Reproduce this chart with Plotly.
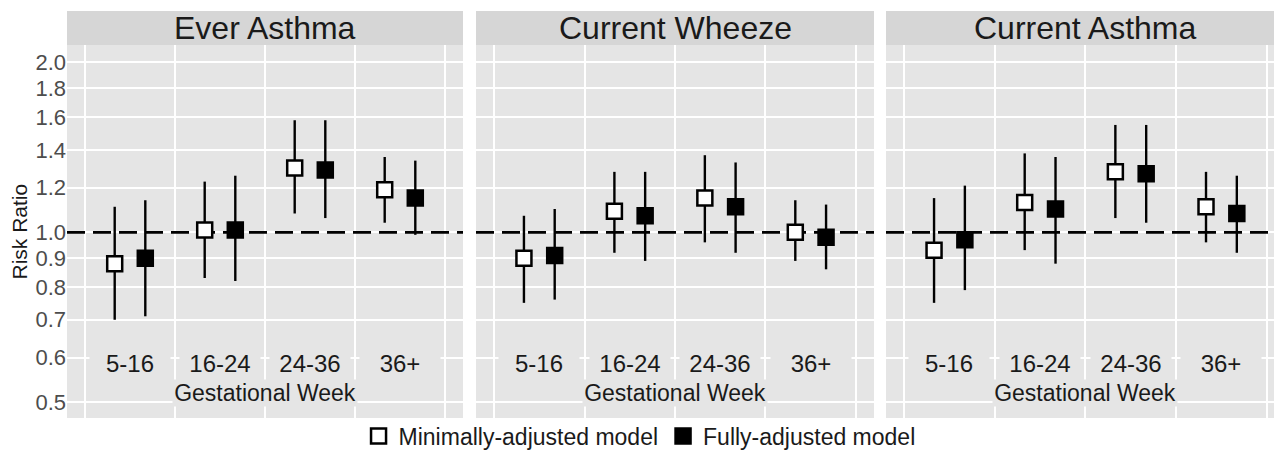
import math
import plotly.graph_objects as go

# ---------------- data ----------------
categories = ["5-16", "16-24", "24-36", "36+"]
outcomes = ["Ever Asthma", "Current Wheeze", "Current Asthma"]
series_names = ["Minimally-adjusted model", "Fully-adjusted model"]

# one row per outcome (Ever Asthma, Current Wheeze, Current Asthma)
min_rr = [[0.88, 1.01, 1.30, 1.19],
          [0.90, 1.09, 1.15, 1.00],
          [0.93, 1.13, 1.28, 1.11]]
min_lo = [[0.70, 0.83, 1.08, 1.04],
          [0.75, 0.92, 0.96, 0.89],
          [0.75, 0.93, 1.06, 0.96]]
min_hi = [[1.11, 1.23, 1.58, 1.36],
          [1.07, 1.28, 1.37, 1.14],
          [1.15, 1.38, 1.55, 1.28]]
full_rr = [[0.90, 1.01, 1.29, 1.15],
           [0.91, 1.07, 1.11, 0.98],
           [0.97, 1.10, 1.27, 1.08]]
full_lo = [[0.71, 0.82, 1.06, 0.99],
           [0.76, 0.89, 0.92, 0.86],
           [0.79, 0.88, 1.04, 0.92]]
full_hi = [[1.14, 1.26, 1.58, 1.34],
           [1.10, 1.28, 1.33, 1.12],
           [1.21, 1.36, 1.55, 1.26]]

y_ticks = [0.5, 0.6, 0.7, 0.8, 0.9, 1.0, 1.2, 1.4, 1.6, 1.8, 2.0]
y_tick_labels = ["0.5", "0.6", "0.7", "0.8", "0.9", "1.0", "1.2", "1.4", "1.6", "1.8", "2.0"]
reference_rr = 1.0

# ---------------- style / layout ----------------
W, H = 1274, 452
FONT = "Liberation Sans, Arial, Helvetica, sans-serif"
PANEL = "#e5e5e5"
STRIP = "#d6d6d6"
panel_px = [(67, 463), (476, 874), (886, 1274)]
x_ranges = [[0.3, 4.7], [0.3, 4.7], [0.3, 4.58]]
plot_top, plot_bottom, strip_top = 45, 418, 11
y_range = [-0.329, 0.332]
dodge = 0.17
cat_label_y = 0.587
axis_title_y = 0.519

fig = go.Figure()
layout = dict(
    template="none",
    width=W, height=H,
    margin=dict(l=0, r=0, t=0, b=0, autoexpand=False),
    paper_bgcolor="white",
    plot_bgcolor=PANEL,
    font=dict(family=FONT, color="#1a1a1a"),
    showlegend=True,
    legend=dict(orientation="h", x=0.502, xanchor="center",
                y=1 - 436 / H, yanchor="middle",
                font=dict(size=23, color="#1a1a1a"),
                bgcolor="rgba(0,0,0,0)", itemsizing="trace"),
)
shapes = []
annotations = []

for k in range(3):
    sfx = "" if k == 0 else str(k + 1)
    xa, ya = "x" + sfx, "y" + sfx
    l, r = panel_px[k]
    layout["xaxis" + sfx] = dict(
        domain=[l / W, r / W], range=x_ranges[k], anchor=ya, automargin=False,
        tickvals=[0.5, 1.5, 2.5, 3.5, 4.5], showticklabels=False,
        showgrid=True, gridcolor="white", gridwidth=2, zeroline=False,
        showline=False, ticks="",
    )
    layout["yaxis" + sfx] = dict(
        domain=[1 - plot_bottom / H, 1 - plot_top / H], type="log",
        range=y_range, anchor=xa, automargin=False,
        tickvals=y_ticks, ticktext=y_tick_labels,
        showticklabels=(k == 0), ticks="",
        tickfont=dict(size=22, color="#4d4d4d"),
        showgrid=True, gridcolor="white", gridwidth=2, zeroline=False,
        showline=False,
    )
    # panel background
    shapes.append(dict(type="rect", xref="paper", yref="paper", layer="below",
                       x0=l / W, x1=r / W, y0=1 - plot_bottom / H, y1=1 - plot_top / H,
                       fillcolor=PANEL, line=dict(width=0)))
    # strip
    shapes.append(dict(type="rect", xref="paper", yref="paper",
                       x0=l / W, x1=r / W, y0=1 - plot_top / H, y1=1 - strip_top / H,
                       fillcolor=STRIP, line=dict(width=0)))
    annotations.append(dict(text=outcomes[k], xref=xa, yref="paper",
                            x=(x_ranges[0][0] + x_ranges[0][1]) / 2,
                            y=1 - (plot_top + strip_top) / 2 / H,
                            xanchor="center", yanchor="middle", showarrow=False,
                            font=dict(size=32, color="#1a1a1a")))

    # reference dashed line
    fig.add_trace(go.Scatter(x=[x_ranges[0][0], x_ranges[0][1]], y=[reference_rr, reference_rr],
                             mode="lines", xaxis=xa, yaxis=ya, showlegend=False,
                             hoverinfo="skip",
                             line=dict(color="black", width=2.6, dash="18px,8px")))

    xs_min = [j + 1 - dodge for j in range(len(categories))]
    xs_full = [j + 1 + dodge for j in range(len(categories))]
    for xs, rr, lo, hi, name, fill in [
        (xs_min, min_rr[k], min_lo[k], min_hi[k], series_names[0], "white"),
        (xs_full, full_rr[k], full_lo[k], full_hi[k], series_names[1], "black"),
    ]:
        fig.add_trace(go.Scatter(
            x=xs, y=rr, mode="markers", name=name, xaxis=xa, yaxis=ya,
            legendgroup=name, showlegend=(k == 0),
            marker=dict(symbol="square", size=15, color=fill,
                        line=dict(color="black", width=2.5)),
            error_y=dict(type="data", symmetric=False,
                         array=[h - v for h, v in zip(hi, rr)],
                         arrayminus=[v - q for v, q in zip(rr, lo)],
                         width=0, thickness=2.4, color="black"),
        ))

    # category labels inside the panel
    for j, c in enumerate(categories):
        annotations.append(dict(text=c, xref=xa, yref=ya, x=j + 1, y=math.log10(cat_label_y),
                                xanchor="center", yanchor="middle", showarrow=False,
                                bgcolor=PANEL, width=80, height=26, borderpad=0,
                                font=dict(size=24, color="#1a1a1a")))
    annotations.append(dict(text="Gestational Week", xref=xa, yref=ya, x=2.5,
                            y=math.log10(axis_title_y), xanchor="center", yanchor="middle",
                            showarrow=False, bgcolor=PANEL, width=184, height=26,
                            borderpad=0, font=dict(size=23, color="#1a1a1a")))

annotations.append(dict(text="Risk Ratio", xref="paper", yref="paper",
                        x=19 / W, y=1 - 231.5 / H, textangle=-90,
                        xanchor="center", yanchor="middle", showarrow=False,
                        font=dict(size=21, color="#1a1a1a")))

layout["shapes"] = shapes
layout["annotations"] = annotations
fig.update_layout(**layout)
fig.write_html("out.html", config={"displayModeBar": False},
               post_script="document.body.style.margin='0';document.body.style.padding='0';")
